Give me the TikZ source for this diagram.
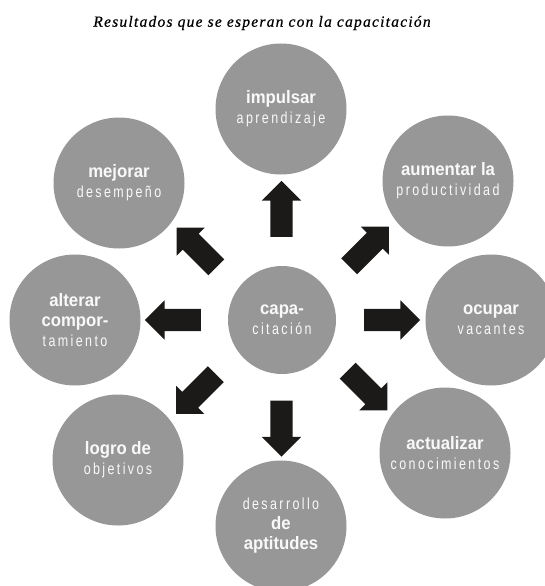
\documentclass[tikz,border=0pt]{standalone}
\usepackage{fontspec}
\setmainfont{Liberation Sans}
\newfontfamily\titlefont[LetterSpace=8,FakeBold=0.6]{Liberation Serif}
\newfontfamily\upfont[FakeStretch=0.93]{Liberation Sans}
\newfontfamily\lowfont[FakeStretch=0.78,LetterSpace=15]{Liberation Sans}
\usetikzlibrary{shapes.arrows,calc}
\definecolor{bubblegray}{HTML}{979797}
\definecolor{arrowblack}{HTML}{1C1A19}
\newcommand{\upl}[1]{{\upfont\fontsize{18}{20}\selectfont\bfseries #1}}
\newcommand{\lowl}[1]{{\lowfont\fontsize{16}{20}\selectfont #1}}

\begin{document}
\begin{tikzpicture}[x=1pt,y=-1pt]
    \tikzstyle{bubble}=[circle,fill=bubblegray,text=white!95!gray,minimum size=131pt,inner sep=0pt,align=center,font=\fontsize{16}{20}\selectfont]
    \tikzstyle{hub}=[bubble,minimum size=108pt]
    \tikzstyle{fat arrow}=[single arrow,fill=arrowblack,minimum height=56pt,inner sep=11pt,single arrow head extend=8.5pt]

    \useasboundingbox (0,0) rectangle (544,586);

    \node[font=\titlefont\itshape\fontsize{15.5}{17}\selectfont] (title) at (262,23) {Resultados que se esperan con la capacitación};

    \node[hub] (cap) at (282,320) {\upl{capa-}\\\lowl{citación}};

    \node[bubble] (imp) at (281,109) {\upl{impulsar}\\\lowl{aprendizaje}};
    \node[bubble] (aum) at (448,181) {\upl{aumentar la}\\\lowl{productividad}};
    \node[bubble] (ocu) at (491,320) {\upl{ocupar}\\\lowl{vacantes}};
    \node[bubble] (act) at (445,453) {\upl{actualizar}\\\lowl{conocimientos}};
    \node[bubble] (des) at (281,526) {\lowl{desarrollo}\\\upl{de}\\\upl{aptitudes}};
    \node[bubble] (log) at (118,460) {\upl{logro de}\\\lowl{objetivos}};
    \node[bubble] (alt) at (75,320) {\upl{alterar}\\\upl{compor-}\\\lowl{tamiento}};
    \node[bubble] (mej) at (119,183) {\upl{mejorar}\\\lowl{desempeño}};

    % block arrows halfway between the hub and each result
    \foreach \n/\a in {imp/90,aum/45,ocu/0,act/-45,des/-90,log/-135,alt/180,mej/135}
        \node[fat arrow,rotate=\a] (arr-\n) at ($(cap)!0.5!(\n)$) {};
\end{tikzpicture}
\end{document}
